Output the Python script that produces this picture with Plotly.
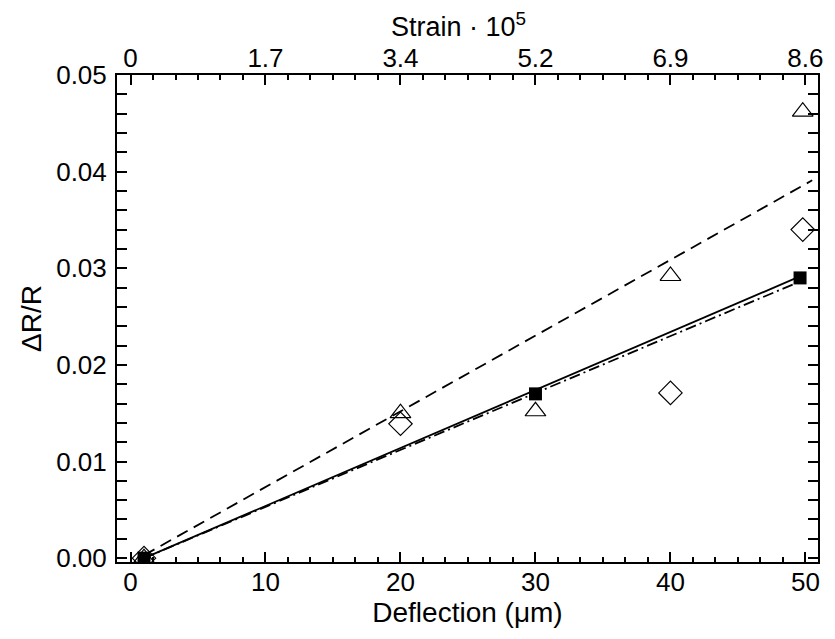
import plotly.graph_objects as go

# data
sq_x = [1, 30, 49.6]
sq_y = [0.0, 0.017, 0.029]
tri_x = [1, 20, 30, 40, 49.8]
tri_y = [0.0, 0.015, 0.0152, 0.0292, 0.0462]
dia_x = [1, 20, 40, 49.8]
dia_y = [0.0, 0.0139, 0.0171, 0.034]

solid_x = [1, 49.5]
solid_y = [0.0, 0.0291]
dashdot_x = [1, 49.2]
dashdot_y = [0.0, 0.0284]
dash_x = [1, 50.5]
dash_y = [0.0003, 0.0391]

bottom_ticks = [0, 10, 20, 30, 40, 50]
top_ticktext = ["0", "1.7", "3.4", "5.2", "6.9", "8.6"]
y_ticks = [0.00, 0.01, 0.02, 0.03, 0.04, 0.05]

FONT = "Liberation Sans, Arial, sans-serif"

fig = go.Figure()
fig.add_trace(go.Scatter(x=dash_x, y=dash_y, mode="lines",
                         line=dict(color="black", width=1.8, dash="12px,7px"), showlegend=False))
fig.add_trace(go.Scatter(x=dashdot_x, y=dashdot_y, mode="lines",
                         line=dict(color="black", width=1.8, dash="11px,4px,2px,4px"), showlegend=False))
fig.add_trace(go.Scatter(x=solid_x, y=solid_y, mode="lines",
                         line=dict(color="black", width=1.8), showlegend=False))
fig.add_trace(go.Scatter(x=tri_x, y=tri_y, mode="markers",
                         marker=dict(symbol="triangle-up-open", size=18, color="black",
                                     line=dict(width=1.2)), showlegend=False))
fig.add_trace(go.Scatter(x=dia_x, y=dia_y, mode="markers",
                         marker=dict(symbol="diamond-open", size=18, color="black",
                                     line=dict(width=1.2)), showlegend=False))
fig.add_trace(go.Scatter(x=sq_x, y=sq_y, mode="markers",
                         marker=dict(symbol="square", size=13, color="black"), showlegend=False))
# invisible trace for top axis
fig.add_trace(go.Scatter(x=[0, 50], y=[0, 0], xaxis="x2", mode="markers",
                         marker=dict(opacity=0), hoverinfo="skip", showlegend=False))

axis_common = dict(showline=True, linecolor="black", linewidth=2, ticks="inside",
                   ticklen=10, tickwidth=1.5, tickcolor="black", showgrid=False,
                   zeroline=False, automargin=False,
                   tickfont=dict(family=FONT, size=26, color="black"))
minor_x = dict(dtick=10/6, tick0=0, ticks="inside", ticklen=5, tickwidth=1.5, tickcolor="black")

fig.update_layout(
    width=827, height=631,
    margin=dict(l=109, r=17, t=67, b=77),
    plot_bgcolor="white", paper_bgcolor="white",
    font=dict(family=FONT, color="black"),
    xaxis=dict(range=[-1, 50.93], tickvals=bottom_ticks, minor=minor_x, ticklabelstandoff=-4,
               title=dict(text="Deflection (μm)", font=dict(family=FONT, size=28), standoff=2),
               **axis_common),
    xaxis2=dict(range=[-1, 50.93], overlaying="x", side="top", tickvals=bottom_ticks,
                ticktext=top_ticktext, minor=minor_x, ticklabelstandoff=-4,
                **axis_common),
    yaxis=dict(range=[-0.0004, 0.05], tickvals=y_ticks, tickformat=".2f", mirror="allticks",
               ticklabelstandoff=3,
               minor=dict(dtick=0.002, tick0=0, ticks="inside", ticklen=5,
                          tickwidth=1.5, tickcolor="black"),
               title=dict(text="ΔR/R", font=dict(family=FONT, size=28), standoff=6),
               **axis_common),
    annotations=[dict(text="Strain · 10<sup>5</sup>", xref="paper", yref="paper",
                      x=0.487, y=1, yshift=50, xanchor="center", yanchor="middle",
                      showarrow=False, font=dict(family=FONT, size=27, color="black"))],
)

fig.write_html("out.html")
